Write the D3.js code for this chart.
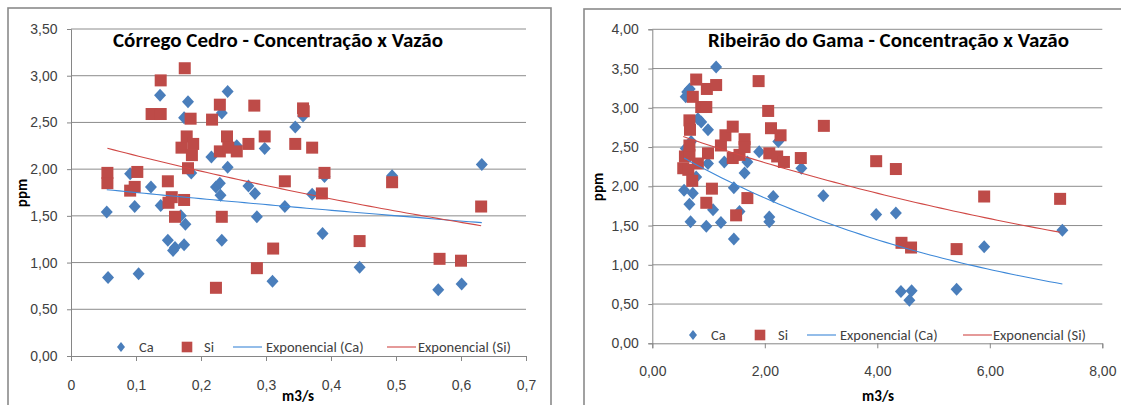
<!DOCTYPE html>
<html>
<head>
<meta charset="utf-8">
<script src="https://cdn.jsdelivr.net/npm/d3@7"></script>
<style>
  body { margin: 0; background: #fff; }
  svg { display: block; font-family: Carlito, Calibri, Lato, sans-serif; }
  .tick text { fill: #404040; font-size: 14px; }
  .tick line { stroke: #868686; }
  .domain { stroke: #868686; }
  .grid line { stroke: #8c8c8c; stroke-width: 1; }
  .legend text { fill: #404040; font-size: 14.5px; }
</style>
</head>
<body>
<div class="chart"></div>
<script>
// Córrego Cedro : [vazão m3/s, ppm]
var cedroCa = [
  [0.055,1.54],[0.057,0.84],[0.091,1.95],[0.098,1.60],[0.104,0.88],[0.123,1.81],[0.137,2.79],
  [0.138,1.61],[0.149,1.24],[0.157,1.13],[0.160,1.16],[0.169,1.50],[0.174,2.55],[0.174,1.19],
  [0.176,1.41],[0.180,2.72],[0.185,1.96],[0.216,2.13],[0.223,1.81],[0.229,1.85],[0.230,1.72],
  [0.232,2.60],[0.232,1.24],[0.241,2.83],[0.241,2.02],[0.255,2.25],[0.273,1.82],[0.283,1.74],
  [0.286,1.49],[0.298,2.22],[0.310,0.80],[0.329,1.60],[0.345,2.45],[0.357,2.57],[0.371,1.73],
  [0.387,1.31],[0.390,1.92],[0.444,0.95],[0.494,1.93],[0.565,0.71],[0.601,0.77],[0.632,2.05]
];
var cedroSi = [
  [0.056,1.96],[0.056,1.85],[0.091,1.77],[0.098,1.81],[0.102,1.97],[0.124,2.59],[0.138,2.59],
  [0.138,2.95],[0.149,1.87],[0.150,1.64],[0.155,1.70],[0.160,1.49],[0.170,2.23],[0.174,1.67],
  [0.175,3.08],[0.178,2.35],[0.180,2.01],[0.184,2.54],[0.186,2.15],[0.188,2.27],[0.217,2.53],
  [0.223,0.73],[0.229,2.69],[0.229,2.19],[0.232,1.49],[0.240,2.35],[0.242,2.23],[0.255,2.19],
  [0.273,2.27],[0.282,2.68],[0.286,0.94],[0.298,2.35],[0.311,1.15],[0.329,1.87],[0.345,2.27],
  [0.357,2.65],[0.358,2.62],[0.371,2.23],[0.386,1.74],[0.390,1.96],[0.444,1.23],[0.494,1.86],
  [0.567,1.04],[0.600,1.02],[0.631,1.60]
];
// Ribeirão do Gama
var gamaCa = [
  [0.565,1.95],[0.594,3.14],[0.594,2.48],[0.62,3.20],[0.665,3.24],[0.66,1.77],[0.68,1.55],
  [0.69,2.57],[0.72,1.91],[0.78,2.12],[0.81,2.86],[0.87,2.82],[0.96,1.49],[0.99,2.72],
  [0.99,2.29],[1.08,1.70],[1.135,3.52],[1.22,1.54],[1.28,2.31],[1.45,1.98],[1.45,1.33],
  [1.55,1.68],[1.64,2.17],[1.69,2.31],[1.90,2.44],[2.08,1.61],[2.08,1.55],[2.15,1.87],
  [2.24,2.57],[2.65,2.23],[3.04,1.88],[3.98,1.64],[4.33,1.66],[4.42,0.66],[4.57,0.55],
  [4.61,0.67],[5.41,0.69],[5.90,1.23],[7.29,1.44]
];
var gamaSi = [
  [0.55,2.23],[0.58,2.38],[0.64,2.21],[0.66,2.40],[0.66,2.52],[0.66,2.84],[0.67,2.72],
  [0.71,2.07],[0.72,3.14],[0.78,3.36],[0.81,2.29],[0.87,3.01],[0.96,3.01],[0.96,1.79],
  [0.97,3.24],[0.99,2.42],[1.06,1.97],[1.135,3.29],[1.22,2.52],[1.30,2.65],[1.43,2.76],
  [1.43,2.36],[1.49,1.63],[1.55,2.40],[1.64,2.60],[1.64,2.50],[1.69,1.85],[1.89,3.34],
  [2.06,2.96],[2.08,2.42],[2.11,2.74],[2.22,2.38],[2.28,2.65],[2.34,2.31],[2.64,2.36],
  [3.05,2.77],[3.98,2.32],[4.33,2.22],[4.43,1.28],[4.60,1.22],[5.41,1.20],[5.90,1.87],
  [7.25,1.84]
];

// exponential trendlines y = a * e^(b x): [a, b]
var cedroCaTrend = [1.818, -0.383];
var cedroSiTrend = [2.327, -0.811];
var gamaCaTrend = [2.597, -0.1693];
var gamaSiTrend = [2.771, -0.0928];

var cedroXTicks = [0, 0.1, 0.2, 0.3, 0.4, 0.5, 0.6, 0.7];
var cedroYTicks = [0, 0.5, 1, 1.5, 2, 2.5, 3, 3.5];
var gamaXTicks = [0, 2, 4, 6, 8];
var gamaYTicks = [0, 0.5, 1, 1.5, 2, 2.5, 3, 3.5, 4];

var legendLabels = ["Ca", "Si", "Exponencial (Ca)", "Exponencial (Si)"];

var caColor = "#4a7ebb", siColor = "#be4b48";
var caTrend = "#3d88d8", siTrend = "#d04845";

var br = d3.formatLocale({ decimal: ",", thousands: ".", grouping: [3], currency: ["R$", ""] });

var svg = d3.select(".chart").append("svg")
    .attr("width", 1121)
    .attr("height", 405);

// trendline drawn over the x range of its series
function trendPoints(pts, coef) {
    var x0 = d3.min(pts, function (p) { return p[0]; });
    var x1 = d3.max(pts, function (p) { return p[0]; });
    return d3.range(0, 61).map(function (i) {
        var x = x0 + (x1 - x0) * i / 60;
        return [x, coef[0] * Math.exp(coef[1] * x)];
    });
}

function drawChart(c) {
    var g = svg.append("g");

    // chart frame
    g.append("rect")
        .attr("x", c.frame[0]).attr("y", c.frame[1])
        .attr("width", c.frame[2]).attr("height", c.frame[3])
        .attr("fill", "#fff")
        .attr("stroke", "#8a8a8a")
        .attr("stroke-width", 1.6);

    var x = d3.scaleLinear().domain(c.xDomain).range([c.left, c.right]);
    var y = d3.scaleLinear().domain(c.yDomain).range([c.bottom, c.top]);

    g.append("g")
        .attr("class", "grid")
        .selectAll("line")
        .data(c.yTicks.slice(1))
        .enter().append("line")
        .attr("x1", c.left).attr("x2", c.right)
        .attr("y1", function (d) { return y(d); })
        .attr("y2", function (d) { return y(d); });

    g.append("g")
        .attr("transform", "translate(" + c.left + ",0)")
        .call(d3.axisLeft(y).tickValues(c.yTicks).tickSize(4).tickPadding(9.5).tickFormat(br.format(".2f")));

    g.append("g")
        .attr("transform", "translate(0," + c.bottom + ")")
        .call(d3.axisBottom(x).tickValues(c.xTicks).tickSize(5).tickPadding(c.xPad).tickFormat(br.format(c.xFmt)));

    g.selectAll(".domain").attr("stroke", "#868686");

    // title and axis titles
    g.append("text")
        .attr("x", c.titleX).attr("y", 47)
        .attr("font-size", 20).attr("font-weight", "bold")
        .attr("textLength", c.titleW).attr("lengthAdjust", "spacingAndGlyphs")
        .text(c.title);

    g.append("text")
        .attr("x", c.xLabelX).attr("y", 401)
        .attr("text-anchor", "middle")
        .attr("font-size", 15).attr("font-weight", "bold")
        .text("m3/s");

    g.append("text")
        .attr("transform", "translate(" + c.yLabelX + "," + c.yLabelY + ") rotate(-90)")
        .attr("text-anchor", "middle")
        .attr("font-size", 15).attr("font-weight", "bold")
        .text("ppm");

    // legend
    var lg = g.append("g").attr("class", "legend");
    var L = c.legend, ly = c.legendY;
    lg.append("path")
        .attr("d", "M0,-5L4,0L0,5L-4,0Z")
        .attr("transform", "translate(" + L[0] + "," + ly + ")")
        .attr("fill", caColor);
    lg.append("rect").attr("x", L[2] - 5.3).attr("y", ly - 5.3).attr("width", 10.6).attr("height", 10.6).attr("fill", siColor);
    lg.append("line").attr("x1", L[4]).attr("x2", L[4] + 29).attr("y1", ly).attr("y2", ly).attr("stroke", caTrend).attr("stroke-width", 1.1);
    lg.append("line").attr("x1", L[6]).attr("x2", L[6] + 29).attr("y1", ly).attr("y2", ly).attr("stroke", siTrend).attr("stroke-width", 1.1);
    [1, 3, 5, 7].forEach(function (k, i) {
        lg.append("text").attr("x", L[k]).attr("y", ly).attr("dy", "0.34em").text(legendLabels[i]);
    });

    // points
    g.append("g").selectAll("path")
        .data(c.ca)
        .enter().append("path")
        .attr("d", "M0,-6.5L6,0L0,6.5L-6,0Z")
        .attr("transform", function (d) { return "translate(" + x(d[0]) + "," + y(d[1]) + ")"; })
        .attr("fill", caColor);

    g.append("g").selectAll("rect")
        .data(c.si)
        .enter().append("rect")
        .attr("x", function (d) { return x(d[0]) - 6; })
        .attr("y", function (d) { return y(d[1]) - 6; })
        .attr("width", 12).attr("height", 12)
        .attr("fill", siColor);

    // trendlines
    var line = d3.line()
        .x(function (d) { return x(d[0]); })
        .y(function (d) { return y(d[1]); });

    g.append("path").datum(trendPoints(c.ca, c.caTrend))
        .attr("d", line).attr("fill", "none")
        .attr("stroke", caTrend).attr("stroke-width", 1.1);
    g.append("path").datum(trendPoints(c.si, c.siTrend))
        .attr("d", line).attr("fill", "none")
        .attr("stroke", siTrend).attr("stroke-width", 1.1);
}

drawChart({
    frame: [8, 8, 543, 420],
    left: 71, right: 526, top: 29, bottom: 356,
    xDomain: [0, 0.7], yDomain: [0, 3.5],
    xTicks: cedroXTicks, yTicks: cedroYTicks,
    xFmt: ".1~f", xPad: 19,
    ca: cedroCa, si: cedroSi, caTrend: cedroCaTrend, siTrend: cedroSiTrend,
    title: "Córrego Cedro - Concentração x Vazão", titleX: 113, titleW: 330,
    xLabelX: 298, yLabelX: 27, yLabelY: 193,
    legendY: 347, legend: [121, 139, 187, 204, 233, 266, 387, 418]
});

drawChart({
    frame: [584, 9, 545, 420],
    left: 652.3, right: 1102.3, top: 29.3, bottom: 343.3,
    xDomain: [0, 8], yDomain: [0, 4],
    xTicks: gamaXTicks, yTicks: gamaYTicks,
    xFmt: ".2f", xPad: 18,
    ca: gamaCa, si: gamaSi, caTrend: gamaCaTrend, siTrend: gamaSiTrend,
    title: "Ribeirão do Gama - Concentração x Vazão", titleX: 708, titleW: 361,
    xLabelX: 878, yLabelX: 603, yLabelY: 187,
    legendY: 335, legend: [693, 711, 760, 778, 807, 840, 963, 993]
});
</script>
</body>
</html>
